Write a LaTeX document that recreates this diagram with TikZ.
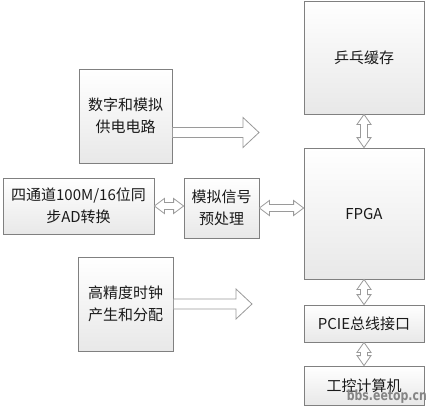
\documentclass[tikz,border=0pt]{standalone}
\usepackage{fontspec}
\setmainfont{Noto Sans CJK SC}
\newfontfamily\markfont{DejaVu Sans}
\usepackage{tikz}
\usetikzlibrary{calc}
\definecolor{boxline}{HTML}{808080}
\definecolor{arrline}{HTML}{9A9A9A}
\definecolor{boxtext}{HTML}{1A1A1A}
% hollow block arrows between two points
\newcommand{\dArrowH}[2]{%
  \path[Hollow] let \p1=(#1), \p2=(#2) in
    (\x1,\y1) -- (\x1+10pt,\y1+7.5pt) -- (\x1+10pt,\y1+3.5pt) -- (\x2-10pt,\y1+3.5pt)
    -- (\x2-10pt,\y1+7.5pt) -- (\x2,\y1) -- (\x2-10pt,\y1-7.5pt) -- (\x2-10pt,\y1-3.5pt)
    -- (\x1+10pt,\y1-3.5pt) -- (\x1+10pt,\y1-7.5pt) -- cycle;}
\newcommand{\dArrowV}[2]{%
  \path[Hollow] let \p1=(#1), \p2=(#2) in
    (\x1,\y1) -- (\x1+7pt,\y1-10pt) -- (\x1+3.5pt,\y1-10pt) -- (\x1+3.5pt,\y2+10pt)
    -- (\x1+7pt,\y2+10pt) -- (\x1,\y2) -- (\x1-7pt,\y2+10pt) -- (\x1-3.5pt,\y2+10pt)
    -- (\x1-3.5pt,\y1-10pt) -- (\x1-7pt,\y1-10pt) -- cycle;}
\newcommand{\sArrowH}[2]{%
  \path[Hollow] let \p1=(#1), \p2=(#2) in
    (\x1,\y1+5pt) -- (\x2-16pt,\y1+5pt) -- (\x2-16pt,\y1+15pt) -- (\x2,\y1)
    -- (\x2-16pt,\y1-15pt) -- (\x2-16pt,\y1-5pt) -- (\x1,\y1-5pt) -- cycle;}

\begin{document}
\begin{tikzpicture}
  [
    x=1pt, y=-1pt,
    Box/.style={rectangle, draw=boxline, line width=0.8pt, top color=white, bottom color=black!9,
      inner sep=0pt, align=center, text=boxtext, font=\fontsize{15}{22}\selectfont},
    Hollow/.style={draw=arrline, fill=white, line width=0.8pt, line join=miter},
    Mark/.style={text=black!48, font=\markfont\bfseries\fontsize{14}{14}\selectfont, inner sep=0pt, xscale=0.78}
  ]
  \useasboundingbox (0,0) rectangle (428,407);
  % Nodes
  \node[Box, minimum width=120pt, minimum height=113pt] (pingpong) at (364,57.5) {乒乓缓存};
  \node[Box, minimum width=120pt, minimum height=131pt] (fpga) at (364,213.5) {FPGA};
  \node[Box, minimum width=120pt, minimum height=37pt] (pcie) at (364,323.5) {PCIE总线接口};
  \node[Box, minimum width=120pt, minimum height=39pt] (ipc) at (364,385.5) {工控计算机};
  \node[Box, minimum width=93pt, minimum height=94pt] (supply) at (125.5,116) {数字和模拟\\供电电路};
  \node[Box, minimum width=151pt, minimum height=56pt] (ad) at (78.5,206) {四通道100M/16位同\\步AD转换};
  \node[Box, minimum width=75pt, minimum height=60pt] (pre) at (221.5,208) {模拟信号\\预处理};
  \node[Box, minimum width=95pt, minimum height=94pt] (clock) at (125.5,304) {高精度时钟\\产生和分配};
  \coordinate (supplyEnd) at (259,132.5);
  \coordinate (clockEnd) at (252,304);
  \node[Mark, anchor=east] (mark) at (427,397) {bbs.eetop.cn};
  % Lines
  \sArrowH{supply.east |- supplyEnd}{supplyEnd}
  \sArrowH{clock.east}{clockEnd}
  \dArrowH{ad.east}{ad.east -| pre.west}
  \dArrowH{pre.east}{pre.east -| fpga.west}
  \dArrowV{pingpong.south}{fpga.north}
  \dArrowV{fpga.south}{pcie.north}
  \dArrowV{pcie.south}{ipc.north}
\end{tikzpicture}
\end{document}
